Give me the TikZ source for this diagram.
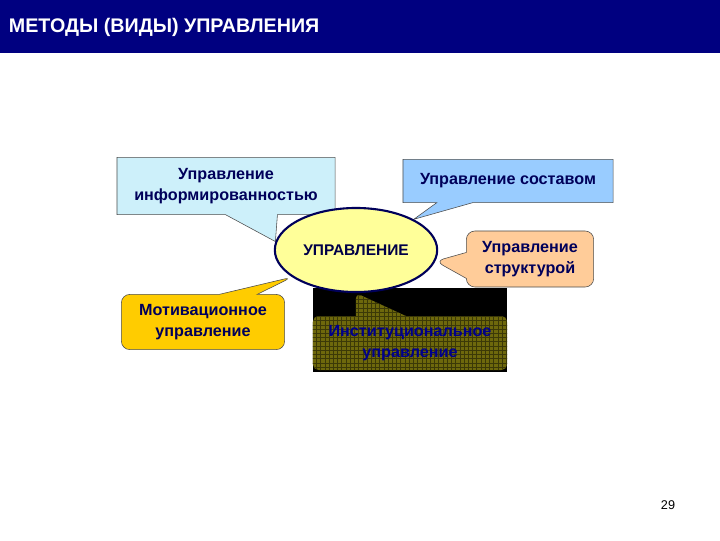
\documentclass[tikz,border=0pt]{standalone}
\usepackage{fontspec}
\setmainfont{Liberation Sans}
\usepackage{tikz}
\usetikzlibrary{shapes,shapes.callouts,positioning,backgrounds,patterns}
\definecolor{headblue}{RGB}{0,0,128}
\definecolor{textblue}{RGB}{0,0,90}
\definecolor{infocyan}{RGB}{205,240,250}
\definecolor{sostavblue}{RGB}{153,204,255}
\definecolor{structpeach}{RGB}{255,204,153}
\definecolor{motivgold}{RGB}{255,204,0}
\definecolor{institolive}{RGB}{110,104,12}
\definecolor{centeryellow}{RGB}{255,255,153}

\begin{document}
\begin{tikzpicture}[
    x=0.025cm, y=-0.025cm,
    bubble/.style={rectangle callout, draw=black!70, align=center, text=textblue,
        font=\bfseries\fontsize{11.5}{14.5}\selectfont, inner sep=2pt},
]
    \useasboundingbox (0,0) rectangle (720,540);

    % Header
    \fill[headblue] (0,0) rectangle (720,53);
    \node[anchor=west, text=white, font=\bfseries\fontsize{14}{16}\selectfont] (title) at (4,27) {МЕТОДЫ (ВИДЫ) УПРАВЛЕНИЯ};

    % Center
    \node[ellipse, draw=textblue, line width=1.5pt, fill=centeryellow, minimum width=3.95cm, minimum height=2.1cm,
        font=\bfseries\fontsize{11}{13}\selectfont, text=textblue!80!black] (ctr) at (356,250) {УПРАВЛЕНИЕ};

    \begin{scope}[on background layer]
        % Black backing
        \fill[black] (313,288) rectangle (507,372);

        % Informedness
        \node[bubble, fill=infocyan, minimum width=5.45cm, minimum height=1.43cm,
            callout absolute pointer={(ctr.174)}, callout pointer width=1.3cm] (info) at (226,186)
            {Управление\\информированностью};

        % Composition
        \node[bubble, fill=sostavblue, minimum width=5.25cm, minimum height=1.08cm,
            callout absolute pointer={(ctr.28)}, callout pointer width=0.9cm] (sostav) at (508,181)
            {Управление составом};

        % Structure
        \node[bubble, fill=structpeach, rounded corners=6pt, minimum width=3.18cm, minimum height=1.4cm,
            callout absolute pointer={(ctr.-8)}, callout pointer width=0.65cm] (struct) at (530,259)
            {Управление\\структурой};

        % Motivation
        \node[bubble, fill=motivgold, rounded corners=6pt, minimum width=4.08cm, minimum height=1.38cm,
            callout absolute pointer={(ctr.203)}, callout pointer width=0.95cm] (motiv) at (203,322)
            {Мотивационное\\управление};

        % Institutional
        \node[bubble, fill=institolive, draw=none, rounded corners=4pt, text=textblue!70!blue,
            minimum width=4.85cm, minimum height=1.35cm,
            postaction={pattern=grid, pattern color=institolive!55!black},
            callout absolute pointer={(ctr.south)}, callout pointer width=1.25cm] (instit) at (410,343)
            {Институциональное\\управление};
    \end{scope}

    % Page number
    \node[font=\fontsize{9}{11}\selectfont] (page) at (668,505) {29};
\end{tikzpicture}
\end{document}
